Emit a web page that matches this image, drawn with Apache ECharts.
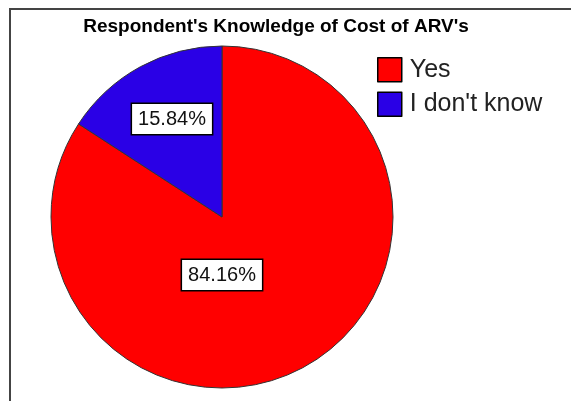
<!DOCTYPE html>
<html><head><meta charset="utf-8">
<script src="https://cdn.jsdelivr.net/npm/echarts@6/dist/echarts.min.js"></script>
<style>html,body{margin:0;padding:0;background:#fff}#c{width:571px;height:401px}</style>
</head><body><div id="c"></div>
<script>
var titleText = "Respondent's Knowledge of Cost of ARV's";
var categories = ["Yes", "I don't know"];
var values = [84.16, 15.84];
var colors = ["#ff0000", "#2a00e6"];

var chart = echarts.init(document.getElementById('c'), null, {renderer: 'canvas'});
var cx = 222, cy = 217, R = 171;
var labelOffsets = [[0, 58], [-50, -98]];
chart.setOption({
  animation: false,
  graphic: [{
    type: 'rect', shape: {x: 10, y: 9, width: 700, height: 500},
    style: {fill: 'none', stroke: '#444', lineWidth: 2}, silent: true
  }],
  title: {
    text: titleText, left: 276, top: 17, textAlign: 'center', padding: 0,
    textStyle: {fontFamily: 'Liberation Sans, Arial, sans-serif', fontSize: 19, fontWeight: 'bold', color: '#000'}
  },
  legend: {
    orient: 'vertical', left: 377, top: 57, padding: 0, itemWidth: 24, itemHeight: 24, itemGap: 9,
    icon: 'rect', data: categories,
    itemStyle: {borderColor: '#000', borderWidth: 1.5},
    textStyle: {fontFamily: 'Liberation Sans, Arial, sans-serif', fontSize: 25, color: '#222', padding: [0, 0, 0, 3]}
  },
  series: [{
    type: 'pie', center: [cx, cy], radius: R, startAngle: 90, clockwise: true,
    data: categories.map(function (n, i) { return {name: n, value: values[i], itemStyle: {color: colors[i]}}; }),
    itemStyle: {borderColor: '#333', borderWidth: 1},
    label: {
      show: true, position: 'inside',
      formatter: function (p) { return p.value.toFixed(2) + '%'; },
      fontFamily: 'Liberation Sans, Arial, sans-serif', fontSize: 20, color: '#111',
      backgroundColor: '#fff', borderColor: '#000', borderWidth: 1.5, padding: [6, 6, 4, 6]
    },
    labelLine: {show: false},
    labelLayout: function (p) {
      var o = labelOffsets[p.dataIndex];
      return {x: cx + o[0], y: cy + o[1], align: 'center', verticalAlign: 'middle'};
    },
    emphasis: {disabled: true}
  }]
});
</script></body></html>
